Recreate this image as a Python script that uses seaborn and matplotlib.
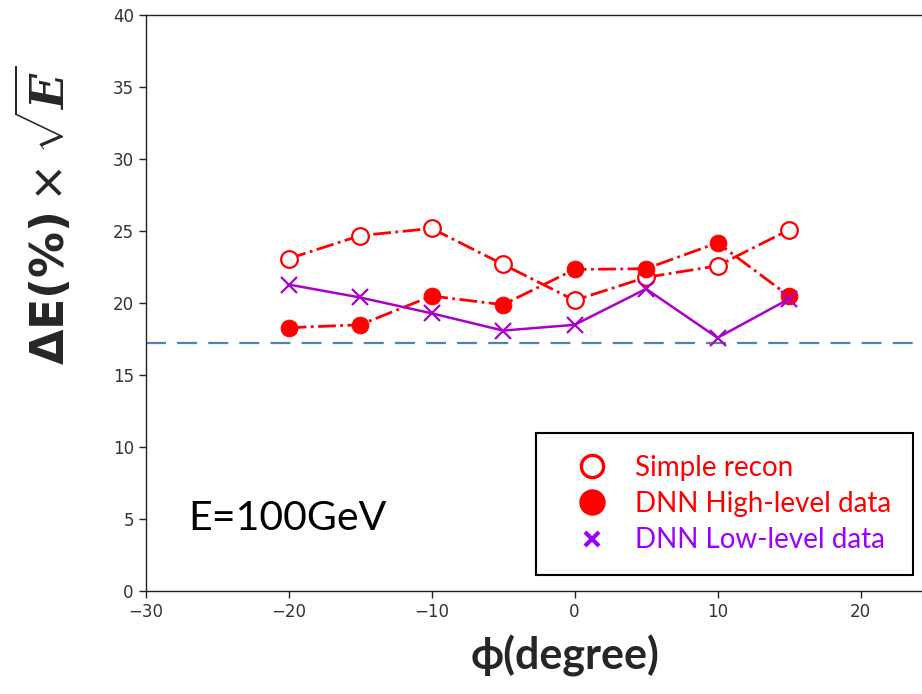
import matplotlib
matplotlib.use("Agg")
import matplotlib.pyplot as plt
from matplotlib.lines import Line2D
import seaborn as sns
import pandas as pd

phi = [-20, -15, -10, -5, 0, 5, 10, 15]
simple_recon = [23.1, 24.7, 25.2, 22.7, 20.2, 21.8, 22.6, 25.1]
dnn_high = [18.3, 18.5, 20.5, 19.9, 22.35, 22.4, 24.2, 20.5]
dnn_low = [21.3, 20.4, 19.3, 18.1, 18.5, 21.0, 17.6, 20.3]
ref_level = 17.25
labels = ["Simple recon", "DNN High-level data", "DNN Low-level data"]
x_ticks = [-30, -20, -10, 0, 10, 20]
y_ticks = [0, 5, 10, 15, 20, 25, 30, 35, 40]

sns.set_theme(style="ticks")
plt.rcParams['mathtext.fontset'] = 'custom'
plt.rcParams['mathtext.rm'] = 'DejaVu Sans'
plt.rcParams['mathtext.bf'] = 'DejaVu Sans:bold'
plt.rcParams['mathtext.bfit'] = 'DejaVu Serif:italic:bold'

fig = plt.figure(figsize=(9.22, 6.94), dpi=100)
ax = fig.add_axes([0.158, 0.1484, 1.0 - 0.158, 0.8293])

RED = "#FF0000"
PURPLE_LINE = "#AA00CC"
PURPLE_TXT = "#9900FF"

df = pd.DataFrame({"phi": phi, "simple": simple_recon, "high": dnn_high, "low": dnn_low})

ax.axhline(ref_level, color="#4F81BD", lw=1.6, dashes=(9, 5), zorder=1)

sns.lineplot(data=df, x="phi", y="simple", ax=ax, color=RED, lw=2.0, linestyle="-.",
             marker="o", markersize=12, markerfacecolor="white", markeredgecolor=RED,
             markeredgewidth=1.6, zorder=3)
sns.lineplot(data=df, x="phi", y="high", ax=ax, color=RED, lw=2.0, linestyle="-.",
             marker="o", markersize=12, markerfacecolor=RED, markeredgecolor=RED, zorder=3)
sns.lineplot(data=df, x="phi", y="low", ax=ax, color=PURPLE_LINE, lw=1.8,
             marker="x", markersize=12, markeredgewidth=1.6, markeredgecolor=PURPLE_LINE, zorder=4)

ax.set_xlim(-30, 24.3)
ax.set_ylim(0, 40)
ax.set_xticks(x_ticks)
ax.set_yticks(y_ticks)
ax.tick_params(axis="both", labelsize=12, length=5, width=1, colors="#222222", labelcolor="#333333")
for side in ["left", "bottom", "top"]:
    ax.spines[side].set_color("#222222")
    ax.spines[side].set_linewidth(1.0)
ax.spines["right"].set_visible(False)

ax.set_xlabel("")
ax.set_ylabel("")
fig.text(0.613, 0.055, "ϕ(degree)", ha="center", va="center", fontsize=31,
         fontweight="bold", family=["Lato", "DejaVu Sans"])
fig.text(0.048, 0.69, r"$\mathbf{\Delta E(\%)}\times\sqrt{\mathbfit{E}}$", ha="center", va="center",
         fontsize=33, rotation=90)

fig.text(188 / 922, 1 - 519 / 694, "E=100GeV", ha="left", va="center", fontsize=29.5,
         family=["Lato", "DejaVu Sans"], color="black")

handles = [
    Line2D([], [], linestyle="none", marker="o", markersize=16, markerfacecolor="white",
           markeredgecolor=RED, markeredgewidth=2.4),
    Line2D([], [], linestyle="none", marker="o", markersize=18, markerfacecolor=RED,
           markeredgecolor=RED),
    Line2D([], [], linestyle="none", marker="x", markersize=10, markeredgewidth=3,
           markeredgecolor=PURPLE_TXT),
]
leg = fig.legend(handles, labels, loc="upper left", bbox_to_anchor=(536 / 922, 1 - 433 / 694),
                 bbox_transform=fig.transFigure, borderaxespad=0, frameon=True, fancybox=False,
                 prop={"family": "Lato", "size": 20}, handletextpad=0.35, borderpad=0.8,
                 labelspacing=0.36, handlelength=2.4)
leg.get_frame().set_edgecolor("black")
leg.get_frame().set_linewidth(1.5)
leg.get_frame().set_alpha(1)
for t, c in zip(leg.get_texts(), [RED, RED, PURPLE_TXT]):
    t.set_color(c)

fig.savefig("out.png", dpi=100)
